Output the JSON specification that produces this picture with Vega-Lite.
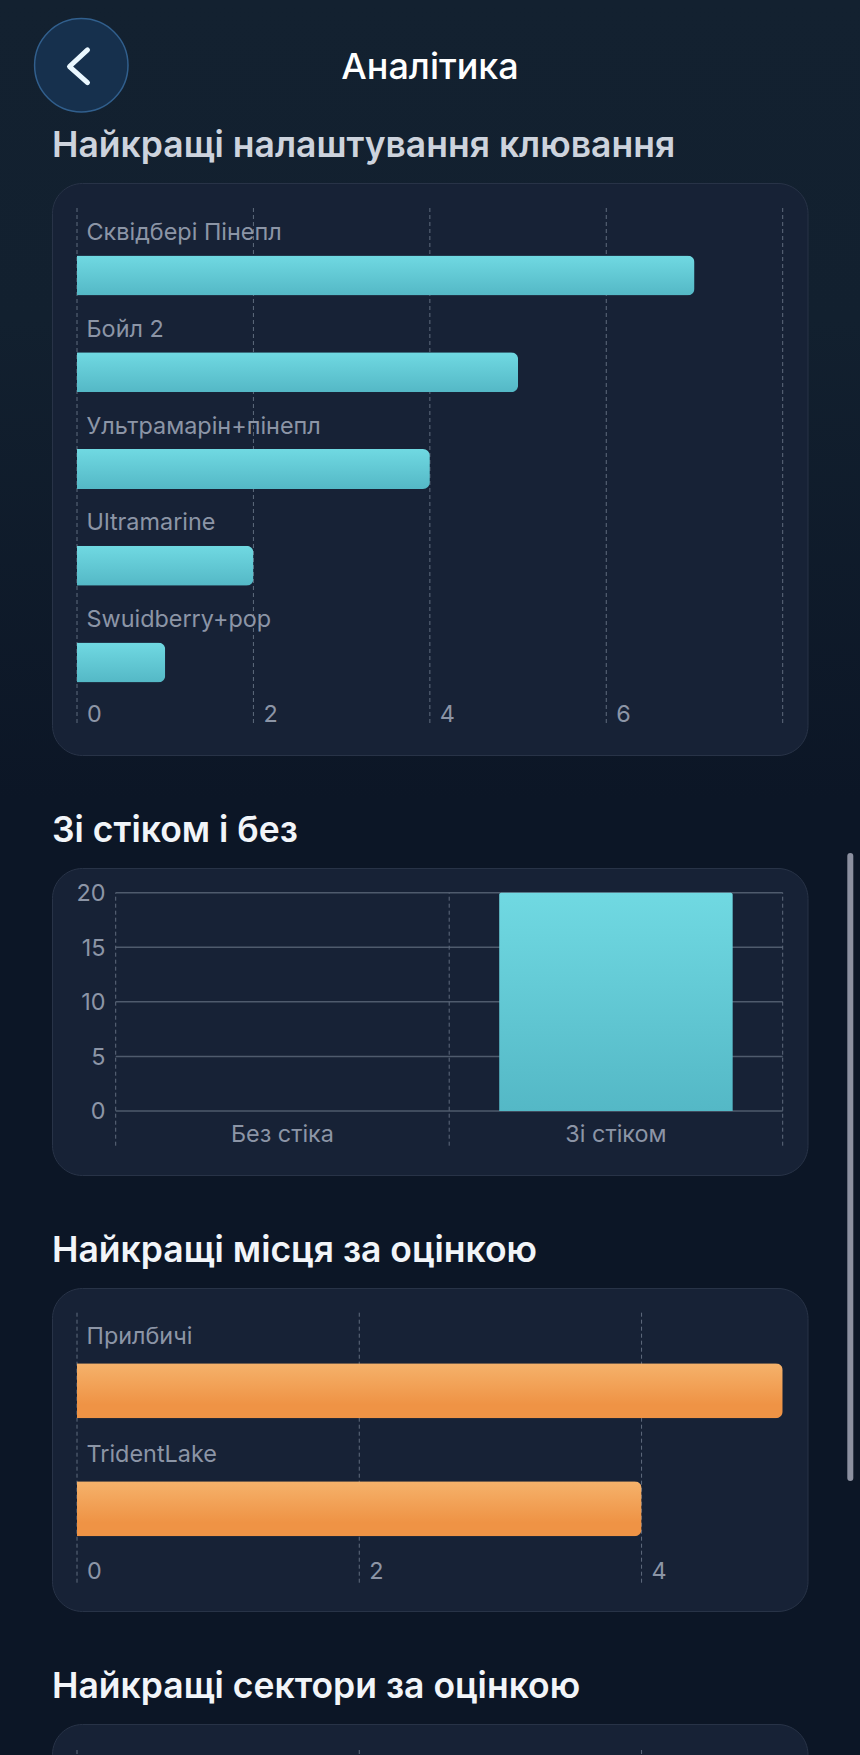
{"$schema":"https://vega.github.io/schema/vega-lite/v6.json","padding":0,"background":"#0c1626","bounds":"flush","spacing":113,"config":{"font":"Inter","view":{"stroke":null},"title":{"font":"Inter","fontWeight":600,"fontSize":35.5,"color":"#f2f5f9","anchor":"start","frame":"group","baseline":"alphabetic","offset":19}},
"vconcat":[
{"width":755.5,"height":70,"data":{"values":[{}]},
"encoding":{},
"layer":[
{"mark":{"type":"rect","color":{"gradient":"linear","x1":0,"y1":0,"x2":0,"y2":1,"stops":[{"offset":0,"color":"#132130"},{"offset":0.4,"color":"#12202f"},{"offset":1,"color":"#0c1626"}]}},"encoding":{"x":{"datum":0,"type":"quantitative","axis":null,"scale":{"domain":[0,860],"range":[-52,808],"nice":false,"zero":false}},"x2":{"datum":860},"y":{"datum":0,"type":"quantitative","axis":null,"scale":{"domain":[0,1755],"range":[0,1755],"nice":false,"zero":false}},"y2":{"datum":800}}},
{"mark":{"type":"rule","stroke":"#8c90a0","strokeWidth":6,"strokeCap":"round"},"encoding":{"x":{"datum":850.3,"type":"quantitative","axis":null},"y":{"datum":856,"type":"quantitative","axis":null},"y2":{"datum":1478}}},
{"mark":{"type":"circle","size":8723,"fill":"#16304d","stroke":"#315f8d","strokeWidth":1.5,"opacity":1},"encoding":{"x":{"datum":81.3,"type":"quantitative","axis":null},"y":{"datum":65.3,"type":"quantitative","axis":null}}},
{"mark":{"type":"point","shape":"M0.55,-1L-0.55,0.02L0.55,1","size":1069,"filled":false,"stroke":"#eaf7ff","strokeWidth":5,"strokeCap":"round","strokeJoin":"round","opacity":1},"encoding":{"x":{"datum":78.5,"type":"quantitative","axis":null},"y":{"datum":66.2,"type":"quantitative","axis":null}}},
{"mark":{"type":"text","text":"Аналітика","font":"Inter","fontSize":36,"fontWeight":500,"color":"#ffffff","align":"center","baseline":"alphabetic"},"encoding":{"x":{"datum":430,"type":"quantitative","axis":null},"y":{"datum":79.3,"type":"quantitative","axis":null}}}
]},
{"title":{"text":"Найкращі налаштування клювання","color":"#cdd3dd"},"width":755.5,"height":572,"view":{"fill":"#172236","stroke":"#283347","cornerRadius":30},
"layer":[
{"data":{"values":[{"tick":0,"top":1,"bottom":0},{"tick":2,"top":1,"bottom":0},{"tick":4,"top":1,"bottom":0},{"tick":6,"top":1,"bottom":0},{"tick":8,"top":1,"bottom":0}]},"mark":{"type":"rule","stroke":"#5f6b7d","strokeWidth":1,"strokeDash":[4,3]},"encoding":{"x":{"field":"tick","type":"quantitative","axis":{"values":[0,2,4,6],"title":null,"domain":false,"ticks":false,"tickSize":0,"grid":false,"labelAlign":"left","labelBaseline":"alphabetic","labelOffset":9.5,"labelPadding":0,"labelFontSize":23.4,"labelColor":"#8c95a6","labelFlush":false,"labelOverlap":false,"labelBound":false,"offset":-33.3,"format":"d"},"scale":{"domain":[0,8],"range":[25,730.7],"nice":false}},"y":{"field":"top","type":"quantitative","axis":null,"scale":{"domain":[0,1],"range":[543,25],"nice":false}},"y2":{"field":"bottom"}}},
{"data":{"values":[{"name":"Сквідбері Пінепл","value":7},{"name":"Бойл 2","value":5},{"name":"Ультрамарін+пінепл","value":4},{"name":"Ultramarine","value":2},{"name":"Swuidberry+pop","value":1}]},"mark":{"type":"bar","cornerRadiusEnd":7,"color":{"gradient":"linear","x1":0,"y1":0,"x2":0,"y2":1,"stops":[{"offset":0,"color":"#70d9e2"},{"offset":1,"color":"#54b8c6"}]}},"encoding":{"x":{"field":"value","type":"quantitative","axis":{"values":[0,2,4,6],"title":null,"domain":false,"ticks":false,"tickSize":0,"grid":false,"labelAlign":"left","labelBaseline":"alphabetic","labelOffset":9.5,"labelPadding":0,"labelFontSize":23.4,"labelColor":"#8c95a6","labelFlush":false,"labelOverlap":false,"labelBound":false,"offset":-33.3,"format":"d"}},"y":{"field":"name","type":"nominal","sort":null,"axis":null,"scale":{"type":"band","range":[72.5,499.5],"paddingInner":0.587,"paddingOuter":0}}}},
{"data":{"values":[{"name":"Сквідбері Пінепл"},{"name":"Бойл 2"},{"name":"Ультрамарін+пінепл"},{"name":"Ultramarine"},{"name":"Swuidberry+pop"}]},"mark":{"type":"text","align":"left","baseline":"alphabetic","dx":9.5,"dy":-15.5,"fontSize":23.4,"color":"#8c95a6"},"encoding":{"x":{"datum":0,"type":"quantitative","axis":{"values":[0,2,4,6],"title":null,"domain":false,"ticks":false,"tickSize":0,"grid":false,"labelAlign":"left","labelBaseline":"alphabetic","labelOffset":9.5,"labelPadding":0,"labelFontSize":23.4,"labelColor":"#8c95a6","labelFlush":false,"labelOverlap":false,"labelBound":false,"offset":-33.3,"format":"d"}},"y":{"field":"name","type":"nominal","sort":null,"bandPosition":0,"axis":null,"scale":{"type":"band","range":[72.5,499.5],"paddingInner":0.587,"paddingOuter":0}},"text":{"field":"name"}}}
],"resolve":{"scale":{"y":"independent"}}},
{"title":"Зі стіком і без","width":755.5,"height":307,"view":{"fill":"#172236","stroke":"#283347","cornerRadius":30},
"layer":[
{"data":{"values":[{"level":0},{"level":5},{"level":10},{"level":15},{"level":20}]},"mark":{"type":"rule","stroke":"#4f5b6d","strokeWidth":1.5},"encoding":{"x":{"datum":0,"type":"quantitative","axis":null,"scale":{"domain":[0,2],"range":[63.7,730.7],"nice":false}},"x2":{"datum":2},"y":{"field":"level","type":"quantitative","axis":{"values":[0,5,10,15,20],"title":null,"domain":false,"ticks":false,"tickSize":0,"grid":false,"labelPadding":10.7,"labelOffset":1,"labelFontSize":23.4,"labelColor":"#8c95a6","offset":-63.7},"scale":{"domain":[-3.18,20],"range":[277.7,24.7],"nice":false,"zero":false}}}},
{"data":{"values":[{"pos":0},{"pos":1},{"pos":2}]},"mark":{"type":"rule","stroke":"#5f6b7d","strokeWidth":1,"strokeDash":[4,3]},"encoding":{"x":{"field":"pos","type":"quantitative","axis":null,"scale":{"domain":[0,2],"range":[63.7,730.7],"nice":false}},"y":{"datum":-3.18,"type":"quantitative","axis":{"values":[0,5,10,15,20],"title":null,"domain":false,"ticks":false,"tickSize":0,"grid":false,"labelPadding":10.7,"labelOffset":1,"labelFontSize":23.4,"labelColor":"#8c95a6","offset":-63.7}},"y2":{"datum":20}}},
{"data":{"values":[{"cat":"Без стіка","value":0},{"cat":"Зі стіком","value":20}]},"mark":{"type":"bar","cornerRadiusTopLeft":2,"cornerRadiusTopRight":2,"color":{"gradient":"linear","x1":0,"y1":0,"x2":0,"y2":1,"stops":[{"offset":0,"color":"#70d9e2"},{"offset":1,"color":"#54b8c6"}]}},"encoding":{"x":{"field":"cat","type":"nominal","sort":null,"scale":{"range":[63.7,730.7],"paddingInner":0.3,"paddingOuter":0.15},"axis":{"title":null,"domain":false,"ticks":false,"tickSize":0,"labelAngle":0,"labelBaseline":"alphabetic","labelPadding":30.7,"labelFontSize":23.4,"labelColor":"#8c95a6","offset":-64}},"y":{"field":"value","type":"quantitative","stack":null,"axis":{"values":[0,5,10,15,20],"title":null,"domain":false,"ticks":false,"tickSize":0,"grid":false,"labelPadding":10.7,"labelOffset":1,"labelFontSize":23.4,"labelColor":"#8c95a6","offset":-63.7}}}}
],"resolve":{"scale":{"x":"independent"}}},
{"title":"Найкращі місця за оцінкою","width":755.5,"height":323,"view":{"fill":"#172236","stroke":"#283347","cornerRadius":30},
"layer":[
{"data":{"values":[{"tick":0,"top":1,"bottom":0},{"tick":2,"top":1,"bottom":0},{"tick":4,"top":1,"bottom":0}]},"mark":{"type":"rule","stroke":"#5f6b7d","strokeWidth":1,"strokeDash":[4,3]},"encoding":{"x":{"field":"tick","type":"quantitative","axis":{"values":[0,2,4],"title":null,"domain":false,"ticks":false,"tickSize":0,"grid":false,"labelAlign":"left","labelBaseline":"alphabetic","labelOffset":9.5,"labelPadding":0,"labelFontSize":23.4,"labelColor":"#8c95a6","labelFlush":false,"labelOverlap":false,"labelBound":false,"offset":-32.7,"format":"d"},"scale":{"domain":[0,5],"range":[25,730.7],"nice":false}},"y":{"field":"top","type":"quantitative","axis":null,"scale":{"domain":[0,1],"range":[294.7,24.7],"nice":false}},"y2":{"field":"bottom"}}},
{"data":{"values":[{"name":"Прилбичі","value":5},{"name":"TridentLake","value":4}]},"mark":{"type":"bar","cornerRadiusEnd":7,"color":{"gradient":"linear","x1":0,"y1":0,"x2":0,"y2":1,"stops":[{"offset":0,"color":"#f5b26b"},{"offset":0.75,"color":"#ef9345"},{"offset":1,"color":"#ef9345"}]}},"encoding":{"x":{"field":"value","type":"quantitative","axis":{"values":[0,2,4],"title":null,"domain":false,"ticks":false,"tickSize":0,"grid":false,"labelAlign":"left","labelBaseline":"alphabetic","labelOffset":9.5,"labelPadding":0,"labelFontSize":23.4,"labelColor":"#8c95a6","labelFlush":false,"labelOverlap":false,"labelBound":false,"offset":-32.7,"format":"d"}},"y":{"field":"name","type":"nominal","sort":null,"axis":null,"scale":{"type":"band","range":[75.3,248.3],"paddingInner":0.533,"paddingOuter":0}}}},
{"data":{"values":[{"name":"Прилбичі"},{"name":"TridentLake"}]},"mark":{"type":"text","align":"left","baseline":"alphabetic","dx":9.5,"dy":-19,"fontSize":23.4,"color":"#8c95a6"},"encoding":{"x":{"datum":0,"type":"quantitative","axis":{"values":[0,2,4],"title":null,"domain":false,"ticks":false,"tickSize":0,"grid":false,"labelAlign":"left","labelBaseline":"alphabetic","labelOffset":9.5,"labelPadding":0,"labelFontSize":23.4,"labelColor":"#8c95a6","labelFlush":false,"labelOverlap":false,"labelBound":false,"offset":-32.7,"format":"d"}},"y":{"field":"name","type":"nominal","sort":null,"bandPosition":0,"axis":null,"scale":{"type":"band","range":[75.3,248.3],"paddingInner":0.533,"paddingOuter":0}},"text":{"field":"name"}}}
],"resolve":{"scale":{"y":"independent"}}},
{"title":"Найкращі сектори за оцінкою","width":755.5,"height":60,"view":{"fill":"#172236","stroke":"#283347","cornerRadius":30},
"data":{"values":[{"tick":0,"top":1,"bottom":0},{"tick":2,"top":1,"bottom":0},{"tick":4,"top":1,"bottom":0}]},
"mark":{"type":"rule","stroke":"#5f6b7d","strokeWidth":1,"strokeDash":[4,3]},"encoding":{"x":{"field":"tick","type":"quantitative","axis":null,"scale":{"domain":[0,5],"range":[25,730.7],"nice":false}},"y":{"field":"top","type":"quantitative","axis":null,"scale":{"domain":[0,1],"range":[60,26],"nice":false}},"y2":{"field":"bottom"}}}
]}
